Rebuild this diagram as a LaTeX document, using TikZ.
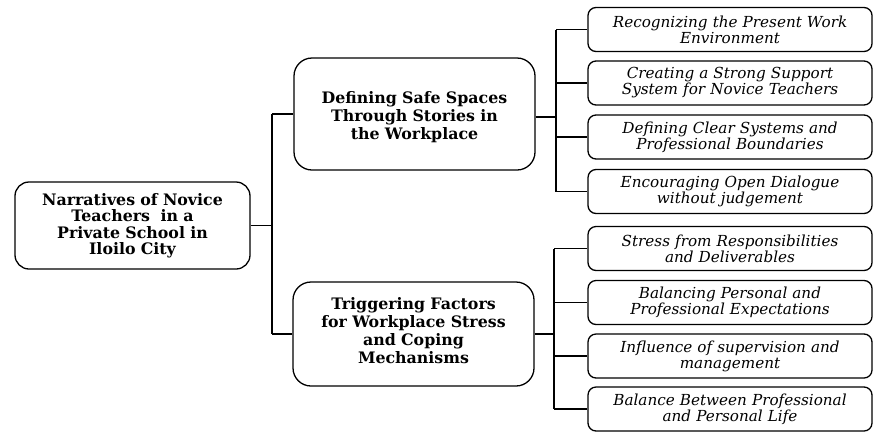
\documentclass[tikz,border=0pt]{standalone}
\usepackage{fontspec}
\setmainfont{DejaVu Serif}
\begin{document}
\begin{tikzpicture}[x=1pt,y=-1pt,
  box/.style={draw, line width=1.3pt, inner sep=0pt, align=center},
  rootbox/.style={box, rounded corners=14pt, minimum width=235pt, minimum height=87pt,
    text width=225pt, font=\fontsize{15.8}{16.5}\selectfont\bfseries},
  midbox/.style={box, rounded corners=18pt, minimum width=241pt},
  midtext/.style={inner sep=0pt, align=center, text width=230pt,
    font=\fontsize{15.8}{17.8}\selectfont\bfseries},
  leafbox/.style={box, rounded corners=8pt, minimum width=284pt, minimum height=44pt,
    text width=276pt, font=\fontsize{15.2}{16}\selectfont\itshape},
  link/.style={line width=1.3pt}]
\useasboundingbox (0,0) rectangle (874,432);

% main topic
\node[rootbox] (root) at (132.5,225.5) {Narratives of Novice\\Teachers\ \ in a\\Private School in\\Iloilo City};

% two themes: frame and caption
\node[midbox, minimum height=112pt] (mt) at (414.5,114) {};
\node[midtext] (mt-text) at ([yshift=-3pt]mt.center) {Defining Safe Spaces\\Through Stories in\\the Workplace};
\node[midbox, minimum height=104pt] (mb) at (413.5,334) {};
\node[midtext] (mb-text) at ([yshift=3.5pt]mb.center) {Triggering Factors\\for Workplace Stress\\and Coping\\Mechanisms};

% sub-themes of the first theme
\node[leafbox] (a1) at (730,29.5) {Recognizing the Present Work\\Environment};
\node[leafbox] (a2) at (730,83) {Creating a Strong Support\\System for Novice Teachers};
\node[leafbox] (a3) at (730,137) {Defining Clear Systems and\\Professional Boundaries};
\node[leafbox] (a4) at (730,191.5) {Encouraging Open Dialogue\\without judgement};

% sub-themes of the second theme
\node[leafbox] (b1) at (730,248.5) {Stress from Responsibilities\\and Deliverables};
\node[leafbox] (b2) at (730,302.5) {Balancing Personal and\\Professional Expectations};
\node[leafbox] (b3) at (730,356) {Influence of supervision and\\management};
\node[leafbox] (b4) at (730,409) {Balance Between Professional\\and Personal Life};

% junction columns
\coordinate (j0) at (272,0);
\coordinate (j1) at (556,0);
\coordinate (j2) at (554,0);

% root to themes
\draw[link] (root.east) -- (root.east -| j0);
\draw[link] (j0 |- mt.west) -- (j0 |- mb.west);
\draw[link] (j0 |- mt.west) -- (mt.west);
\draw[link] (j0 |- mb.west) -- (mb.west);

% first theme to its sub-themes
\draw[link] ([yshift=-3pt]mt.east) -- ([yshift=-3pt]mt.east -| j1);
\draw[link] (j1 |- a1.west) -- (j1 |- a4.west);
\foreach \n in {a1,a2,a3,a4} \draw[link] (j1 |- \n.west) -- (\n.west);

% second theme to its sub-themes
\draw[link] (mb.east) -- (mb.east -| j2);
\draw[link] (j2 |- b1.west) -- (j2 |- b4.west);
\foreach \n in {b1,b2,b3,b4} \draw[link] (j2 |- \n.west) -- (\n.west);
\end{tikzpicture}
\end{document}
